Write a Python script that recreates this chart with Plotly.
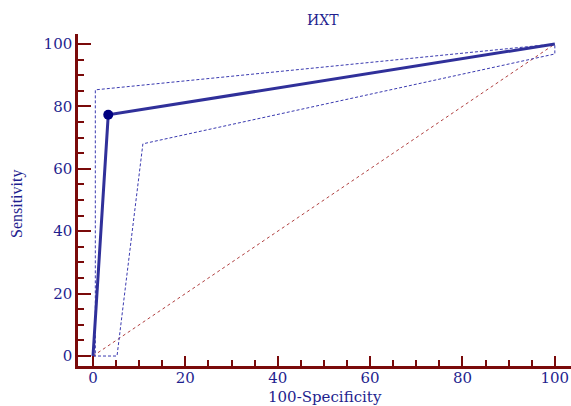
import plotly.graph_objects as go

# ROC data
roc_x = [0, 3.3, 100]
roc_y = [0, 77.3, 100]
cut_x = [3.3]
cut_y = [77.3]
upper_x = [0, 0.5, 0.5, 100]
upper_y = [0, 0, 85.3, 100]
lower_x = [0, 5.2, 10.8, 100, 100]
lower_y = [0, 0, 68, 96.8, 100]
diag_x = [0, 100]
diag_y = [0, 100]
tick_vals = [0, 20, 40, 60, 80, 100]
tick_text = ["0", "20", "40", "60", "80", "100"]

navy = "#1f1f8f"
axc = "#7a0a0a"
serif = "DejaVu Serif, Liberation Serif, serif"
serif2 = "Liberation Serif, Times New Roman, serif"

fig = go.Figure()
fig.add_trace(go.Scatter(x=diag_x, y=diag_y, mode="lines",
                         line=dict(color="#b04040", width=1, dash="dot")))
fig.add_trace(go.Scatter(x=upper_x, y=upper_y, mode="lines",
                         line=dict(color="#3a3ab0", width=1, dash="3px,2px")))
fig.add_trace(go.Scatter(x=lower_x, y=lower_y, mode="lines",
                         line=dict(color="#3a3ab0", width=1, dash="3px,2px")))
fig.add_trace(go.Scatter(x=roc_x, y=roc_y, mode="lines",
                         line=dict(color="#30309a", width=3)))
fig.add_trace(go.Scatter(x=cut_x, y=cut_y, mode="markers",
                         marker=dict(color="#000080", size=10, symbol="circle")))

axis_common = dict(
    showgrid=False, zeroline=False, showline=True, linecolor=axc, linewidth=2.5,
    ticks="inside", tickcolor=axc, tickwidth=2,
    tickvals=tick_vals, ticktext=tick_text,
    tickfont=dict(family=serif, size=15, color=navy),
    minor=dict(dtick=5, tick0=0, ticks="inside", tickcolor=axc, tickwidth=2, ticklen=6),
)
fig.update_layout(
    width=571, height=406,
    margin=dict(l=78, r=0, t=34, b=40),
    plot_bgcolor="white", paper_bgcolor="white",
    showlegend=False,
    xaxis=dict(range=[-3.25, 103.5], ticklen=10, ticklabelstandoff=-4, **axis_common),
    yaxis=dict(range=[-3.2, 103.2], ticklen=13, **axis_common),
)
W, H = 571 - 78, 406 - 34 - 40
def px(xp): return (xp - 78) / W
def py(yp): return (406 - 40 - yp) / H
fig.update_layout(annotations=[
    dict(text="ИХТ", x=px(323), y=py(20), xref="paper", yref="paper", showarrow=False,
         xanchor="center", yanchor="middle",
         font=dict(family=serif, size=14, color=navy)),
    dict(text="100-Specificity", x=px(325), y=py(397), xref="paper", yref="paper",
         showarrow=False, xanchor="center", yanchor="middle",
         font=dict(family=serif, size=15, color=navy)),
    dict(text="Sensitivity", x=px(17), y=py(204), xref="paper", yref="paper",
         showarrow=False, textangle=-90, xanchor="center", yanchor="middle",
         font=dict(family=serif2, size=16, color=navy)),
])
fig.write_html("out.html", config={"displayModeBar": False},
               post_script="document.body.style.margin='0px';")
